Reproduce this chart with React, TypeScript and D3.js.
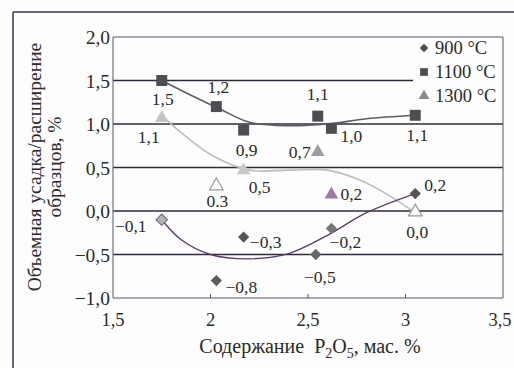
import * as d3 from "d3";

// P2O5 content for each sample, mass %
const xs900 = [1.75, 2.03, 2.17, 2.54, 2.62, 3.05];
const ys900 = [-0.1, -0.8, -0.3, -0.5, -0.2, 0.2];
const lbl900 = ["−0,1", "−0,8", "−0,3", "−0,5", "−0,2", "0,2"];

const xs1100 = [1.75, 2.03, 2.17, 2.55, 2.62, 3.05];
const ys1100 = [1.5, 1.2, 0.93, 1.09, 0.95, 1.1];
const lbl1100 = ["1,5", "1,2", "0,9", "1,1", "1,0", "1,1"];

const xs1300 = [1.75, 2.03, 2.17, 2.55, 2.62, 3.05];
const ys1300 = [1.08, 0.3, 0.48, 0.69, 0.2, 0.0];
const lbl1300 = ["1,1", "0.3", "0,5", "0,7", "0,2", "0,0"];

// trend lines
const trend900x = [1.75, 1.85, 2.0, 2.2, 2.4, 2.6, 2.8, 3.05];
const trend900y = [-0.1, -0.33, -0.5, -0.55, -0.49, -0.28, -0.02, 0.2];
const trend1100x = [1.75, 1.9, 2.05, 2.2, 2.4, 2.6, 2.8, 3.05];
const trend1100y = [1.5, 1.33, 1.17, 1.02, 0.98, 1.0, 1.06, 1.1];
const trend1300x = [1.75, 1.85, 2.0, 2.2, 2.4, 2.6, 2.75, 2.9, 3.05];
const trend1300y = [1.1, 0.9, 0.65, 0.47, 0.47, 0.47, 0.37, 0.2, -0.02];

const xTicks = [1.5, 2, 2.5, 3, 3.5];
const xTickLabels = ["1,5", "2", "2,5", "3", "3,5"];
const yTicks = [-1, -0.5, 0, 0.5, 1, 1.5, 2];
const yTickLabels = ["−1,0", "−0,5", "0,0", "0,5", "1,0", "1,5", "2,0"];

const legendNames = ["900 °C", "1100 °C", "1300 °C"];

// label offsets [dx, dy] and marker fills (style only)
const off900 = [[-31, 12], [25, 12], [22, 11], [4, 28], [14, 20], [20, -3]];
const off1100 = [[1, 24], [2, -14], [3, 26], [0, -16], [20, 14], [2, 26]];
const off1300 = [[-13, 26], [1, 22], [16, 24], [-18, 7], [20, 6], [2, 27]];
const fill1300 = ["#c4c4c4", "#ffffff", "#c8c8c8", "#9d9d9d", "#9c7aa8", "#ffffff"];
const fill900 = ["#b5b5b5", "#5c5c5c", "#555", "#666", "#777", "#555"];

const W = 514;
const H = 368;
const font = "Liberation Serif, DejaVu Serif, serif";

const x = d3.scaleLinear().domain([1.5, 3.5]).range([113, 503]);
const y = d3.scaleLinear().domain([-1, 2]).range([298, 37]);

const line = d3
  .line<[number, number]>()
  .x((d) => x(d[0]))
  .y((d) => y(d[1]))
  .curve(d3.curveCatmullRom.alpha(0.5));

const zip = (a: number[], b: number[]) => a.map((v, i) => [v, b[i]] as [number, number]);

const diamond = d3.symbol().type(d3.symbolSquare).size(64);
const square = d3.symbol().type(d3.symbolSquare).size(120);
const triangle = d3.symbol().type(d3.symbolTriangle).size(80);

const T = (props: any) => <text fill="#2a2a2a" style={{ fontFamily: font, whiteSpace: "pre" }} {...props} />;

export default function App() {
  const gridColor = "#2e2a38";
  return (
    <div style={{ position: "fixed", left: 0, top: 0 }}>
      <svg width={W} height={H} style={{ display: "block", background: "#fdfdfd", fontFamily: font }}>
        {/* outer frame */}
        <line x1={13} y1={12} x2={514} y2={12} stroke="#3a3550" strokeWidth={1.5} />
        <line x1={13} y1={12} x2={13} y2={368} stroke="#3a3550" strokeWidth={1.5} />

        {/* grid */}
        {yTicks.map((t) => (
          <line
            key={t}
            x1={x(1.5)}
            x2={t === 1.5 ? 413 : x(3.5)}
            y1={y(t)}
            y2={y(t)}
            stroke={t === 2 || t === -1 ? "#5a5470" : gridColor}
            strokeWidth={t === 2 || t === -1 ? 1 : 1.3}
          />
        ))}
        <line x1={x(1.5)} x2={x(1.5)} y1={y(2)} y2={y(-1)} stroke="#5a5470" />
        <line x1={x(3.5)} x2={x(3.5)} y1={y(2)} y2={y(-1)} stroke="#5a5470" />
        {xTicks.slice(1, -1).map((t) => (
          <line key={t} x1={x(t)} x2={x(t)} y1={y(-1)} y2={y(-1) - 4} stroke="#5a5470" />
        ))}

        {/* tick labels */}
        {yTicks.map((t, i) => (
          <T key={t} x={110} y={y(t) + 7} fontSize={19.5} textAnchor="end">
            {yTickLabels[i]}
          </T>
        ))}
        {xTicks.map((t, i) => (
          <T
            key={t}
            x={x(t)}
            dx={i === xTicks.length - 1 ? -3 : 0}
            y={326}
            fontSize={18.5}
            textAnchor="middle"
          >
            {xTickLabels[i]}
          </T>
        ))}

        {/* axis titles */}
        <T x={310} y={353} fontSize={20} textAnchor="middle">
          {"Содержание  P"}
          <tspan fontSize={14} dy={5}>2</tspan>
          <tspan dy={-5}>O</tspan>
          <tspan fontSize={14} dy={5}>5</tspan>
          <tspan dy={-5}>, мас. %</tspan>
        </T>
        <g transform="translate(41,167) rotate(-90)">
          <T x={0} y={0} fontSize={19.5} textAnchor="middle">
            Объемная усадка/расширение
          </T>
          <T x={0} y={20} fontSize={19.5} textAnchor="middle">
            образцов, %
          </T>
        </g>

        {/* trends */}
        <path d={line(zip(trend1300x, trend1300y)) ?? ""} fill="none" stroke="#bdbdbd" strokeWidth={1.6} />
        <path d={line(zip(trend1100x, trend1100y)) ?? ""} fill="none" stroke="#5e5e62" strokeWidth={1.6} />
        <path d={line(zip(trend900x, trend900y)) ?? ""} fill="none" stroke="#5a3f6c" strokeWidth={1.4} />

        {/* 1300 */}
        {xs1300.map((v, i) => (
          <g key={"t" + i}>
            <path
              d={triangle() ?? ""}
              transform={`translate(${x(v)},${y(ys1300[i]) + 1})`}
              fill={fill1300[i]}
              stroke={fill1300[i] === "#ffffff" ? "#999" : "none"}
              strokeWidth={1.2}
            />
            <T x={x(v) + off1300[i][0]} y={y(ys1300[i]) + off1300[i][1]} fontSize={17.5} textAnchor="middle">
              {lbl1300[i]}
            </T>
          </g>
        ))}

        {/* 1100 */}
        {xs1100.map((v, i) => (
          <g key={"s" + i}>
            <path d={square() ?? ""} transform={`translate(${x(v)},${y(ys1100[i])})`} fill="#4d4d52" />
            <T x={x(v) + off1100[i][0]} y={y(ys1100[i]) + off1100[i][1]} fontSize={17.5} textAnchor="middle">
              {lbl1100[i]}
            </T>
          </g>
        ))}

        {/* 900 */}
        {xs900.map((v, i) => (
          <g key={"d" + i}>
            <path
              d={diamond() ?? ""}
              transform={`translate(${x(v)},${y(ys900[i])}) rotate(45)`}
              fill={fill900[i]}
              stroke={i === 0 ? "#6a5a7a" : "none"}
            />
            <T x={x(v) + off900[i][0]} y={y(ys900[i]) + off900[i][1]} fontSize={17.5} textAnchor="middle">
              {lbl900[i]}
            </T>
          </g>
        ))}

        {/* legend */}
        {legendNames.map((n, i) => {
          const ly = 48 + i * 24;
          const sym =
            i === 0
              ? d3.symbol().type(d3.symbolSquare).size(36)
              : i === 1
              ? d3.symbol().type(d3.symbolSquare).size(60)
              : d3.symbol().type(d3.symbolTriangle).size(50);
          return (
            <g key={n}>
              <path
                d={sym() ?? ""}
                transform={`translate(424,${ly})${i === 0 ? " rotate(45)" : ""}`}
                fill={i === 2 ? "#8a8a8a" : "#4d4d52"}
              />
              <T x={435} y={ly + 6} fontSize={18.5}>
                {n}
              </T>
            </g>
          );
        })}
      </svg>
    </div>
  );
}
